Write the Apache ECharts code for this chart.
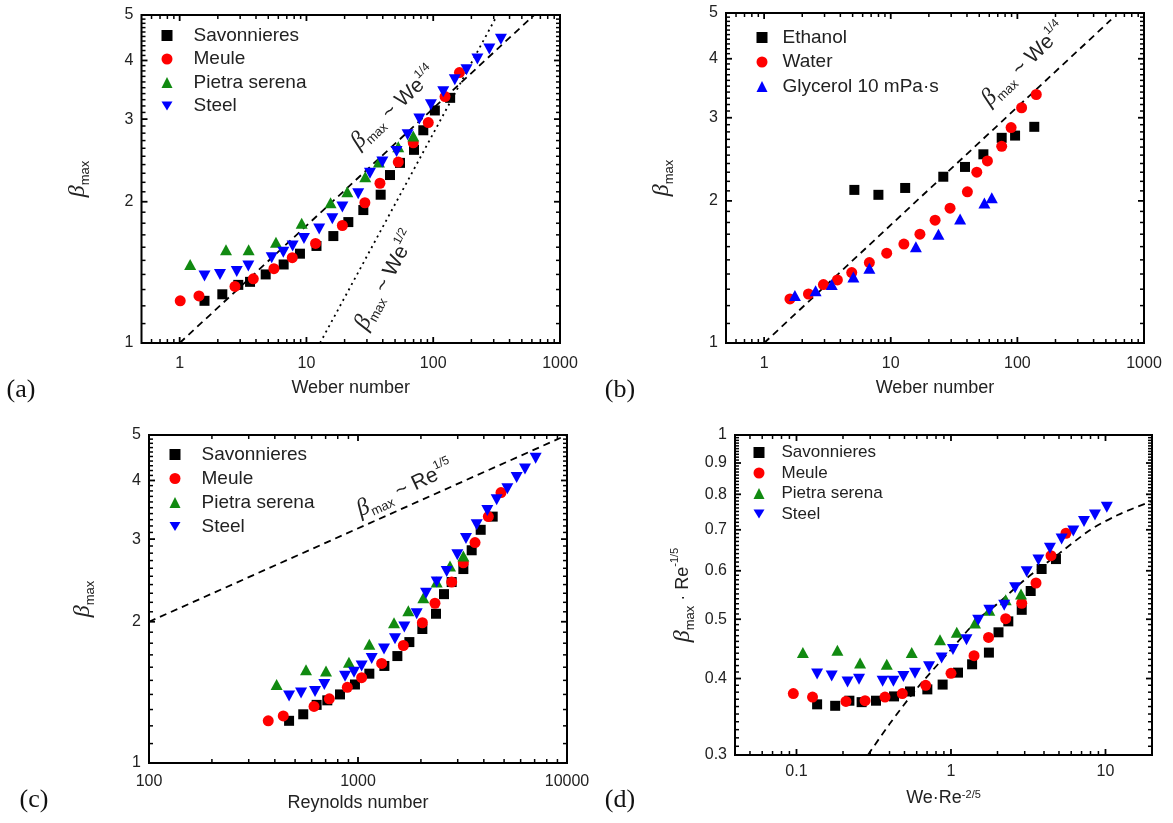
<!DOCTYPE html>
<html><head><meta charset="utf-8">
<script src="https://cdn.jsdelivr.net/npm/echarts@6/dist/echarts.min.js"></script>
<style>html,body{margin:0;padding:0;background:#fff}#c{width:1173px;height:823px}</style>
</head><body><div id="c"></div><script>
// ---------------- DATA ----------------
// Panel (a): beta_max vs Weber number
const savA = [[1.57,1.23],[2.17,1.27],[2.90,1.33],[3.59,1.35],[4.77,1.40],[6.61,1.47],[8.89,1.55],[12.0,1.61],[16.3,1.69],[21.4,1.81],[28.1,1.92],[38.5,2.07],[45.6,2.28],[54.7,2.42],[70.5,2.58],[83.5,2.84],[103,3.13],[136,3.33]];
const meuA = [[1.01,1.23],[1.42,1.26],[2.73,1.32],[3.81,1.37],[5.54,1.44],[7.73,1.52],[11.8,1.63],[19.2,1.78],[28.9,1.99],[38.0,2.19],[53.0,2.43],[69.6,2.67],[91.4,2.95],[124,3.35],[161,3.77]];
const pieA = [[1.21,1.47],[2.32,1.58],[3.50,1.58],[5.75,1.64],[9.17,1.80],[15.5,1.99],[21.0,2.10],[29.1,2.26],[37.3,2.43],[53.0,2.62],[69.6,2.76]];
const steA = [[1.57,1.39],[2.08,1.40],[2.82,1.42],[3.48,1.46],[5.32,1.52],[6.57,1.56],[7.78,1.61],[9.56,1.67],[12.6,1.75],[16.0,1.84],[19.2,1.95],[25.6,2.08],[31.7,2.30],[39.7,2.43],[51.4,2.56],[62.8,2.78],[77.7,3.00],[95.9,3.22],[120,3.43],[148,3.64],[183,3.82],[223,4.03],[277,4.23],[342,4.44]];
const fitA14 = [[1,1],[625,5]];
const fitA12 = [[12.8,1],[320,5]];
// Panel (b): liquids on Weber number
const ethB = [[5.16,2.11],[7.99,2.06],[13.0,2.13],[26.0,2.25],[38.6,2.36],[53.9,2.51],[75.2,2.72],[95.9,2.75],[136,2.87]];
const watB = [[1.60,1.24],[2.24,1.27],[2.94,1.33],[3.79,1.36],[4.92,1.41],[6.78,1.48],[9.29,1.55],[12.7,1.62],[17.0,1.70],[22.4,1.82],[29.4,1.93],[40.3,2.09],[47.8,2.30],[58.0,2.43],[75.2,2.61],[89.2,2.86],[108,3.15],[141,3.36]];
const glyB = [[1.75,1.26],[2.55,1.29],[3.42,1.33],[5.07,1.38],[6.78,1.44],[15.8,1.60],[23.8,1.70],[35.3,1.83],[54.9,1.98],[62.8,2.03]];
const fitB14 = [[1,1],[550,4.84]];
// Panel (c): beta_max vs Reynolds number
const savC = [[468,1.23],[547,1.27],[634,1.33],[713,1.36],[820,1.40],[967,1.47],[1133,1.55],[1337,1.61],[1543,1.69],[1761,1.81],[2032,1.93],[2361,2.08],[2579,2.29],[2807,2.43],[3192,2.59],[3499,2.84],[3864,3.14],[4410,3.35]];
const meuC = [[372,1.23],[439,1.26],[616,1.32],[729,1.37],[889,1.45],[1041,1.52],[1298,1.63],[1648,1.78],[2032,1.99],[2335,2.19],[2807,2.43],[3192,2.67],[3630,2.95],[4204,3.35],[4833,3.77]];
const pieC = [[408,1.47],[564,1.58],[703,1.57],[905,1.64],[1133,1.79],[1487,1.99],[1741,2.11],[2054,2.25],[2379,2.43],[2755,2.63],[3192,2.76]];
const steC = [[468,1.39],[534,1.41],[623,1.42],[690,1.47],[867,1.53],[957,1.56],[1041,1.61],[1163,1.67],[1332,1.75],[1503,1.84],[1666,1.95],[1909,2.08],[2116,2.30],[2379,2.43],[2657,2.56],[2987,2.78],[3286,3.01],[3697,3.22],[4157,3.45],[4608,3.64],[5183,3.84],[5743,4.06],[6295,4.23],[7080,4.46]];
const fitC15 = [[100,2.0],[10000,5.0]];
// Panel (d): beta_max Re^-1/5 vs We Re^-2/5
const savD = [[0.136,0.363],[0.178,0.361],[0.220,0.368],[0.264,0.366],[0.327,0.368],[0.428,0.374],[0.543,0.381],[0.703,0.384],[0.883,0.391],[1.11,0.409],[1.37,0.422],[1.76,0.441],[2.03,0.476],[2.35,0.496],[2.87,0.518],[3.28,0.556],[3.86,0.604],[4.78,0.627]];
const meuD = [[0.0954,0.378],[0.127,0.373],[0.209,0.367],[0.278,0.368],[0.374,0.373],[0.484,0.378],[0.686,0.390],[1.00,0.408],[1.41,0.436],[1.75,0.467],[2.26,0.501],[2.87,0.531],[3.55,0.573],[4.44,0.635],[5.55,0.691]];
const pieD = [[0.110,0.441],[0.184,0.445],[0.258,0.424],[0.384,0.422],[0.557,0.441],[0.849,0.463],[1.09,0.476],[1.43,0.493],[1.77,0.517],[2.26,0.538],[2.84,0.550]];
const steD = [[0.136,0.407],[0.169,0.404],[0.214,0.395],[0.254,0.399],[0.361,0.396],[0.424,0.396],[0.492,0.403],[0.585,0.408],[0.721,0.418],[0.870,0.432],[1.03,0.446],[1.26,0.463],[1.50,0.498],[1.77,0.517],[2.21,0.527],[2.60,0.563],[3.09,0.598],[3.68,0.625],[4.37,0.653],[5.20,0.676],[6.19,0.697],[7.26,0.722],[8.55,0.740],[10.2,0.762]];
const fitD = [[0.29,0.300],[0.40,0.337],[0.60,0.385],[1.0,0.446],[1.5,0.500],[2.0,0.530],[3.0,0.580],[5.0,0.640],[8.0,0.700],[12,0.740],[20,0.780]];

// Tick values
const weMajor = [1,10,100,1000];
const weMinor = [0.6,0.7,0.8,0.9,2,3,4,5,6,7,8,9,20,30,40,50,60,70,80,90,200,300,400,500,600,700,800,900];
const reMajor = [100,1000,10000];
const reMinor = [200,300,400,500,600,700,800,900,2000,3000,4000,5000,6000,7000,8000,9000];
const pMajor = [0.1,1,10];
const pMinor = [0.05,0.06,0.07,0.08,0.09,0.2,0.3,0.4,0.5,0.6,0.7,0.8,0.9,2,3,4,5,6,7,8,9,20];
const betaMajor = [1,2,3,4,5];
const betaMinor = [1.1,1.2,1.3,1.4,1.5,1.6,1.7,1.8,1.9,2.1,2.2,2.3,2.4,2.5,2.6,2.7,2.8,2.9,3.1,3.2,3.3,3.4,3.5,3.6,3.7,3.8,3.9,4.1,4.2,4.3,4.4,4.5,4.6,4.7,4.8,4.9];
const dMajor = [0.3,0.4,0.5,0.6,0.7,0.8,0.9,1.0];
const dMinor = [0.31,0.32,0.33,0.34,0.35,0.36,0.37,0.38,0.39,0.41,0.42,0.43,0.44,0.45,0.46,0.47,0.48,0.49,0.51,0.52,0.53,0.54,0.55,0.56,0.57,0.58,0.59,0.61,0.62,0.63,0.64,0.65,0.66,0.67,0.68,0.69,0.71,0.72,0.73,0.74,0.75,0.76,0.77,0.78,0.79,0.81,0.82,0.83,0.84,0.85,0.86,0.87,0.88,0.89,0.91,0.92,0.93,0.94,0.95,0.96,0.97,0.98,0.99];

// ---------------- STYLE / LAYOUT ----------------
const SANS = '"Liberation Sans", Arial, Helvetica, sans-serif';
const SERIF = '"Liberation Serif", "Times New Roman", serif';
const TXT = '#222';
const BLACK = '#000000', RED = '#ff0000', GREEN = '#118a11', BLUE = '#0000ff';
const DOWN = 'path://M0,0L12,0L6,10Z';
const MAJ_LEN = 6, MIN_LEN = 4, MAJ_W = 1.8, MIN_W = 1.5;

const nameRich = {
  b: {fontFamily: SERIF, fontStyle: 'italic', fontSize: 24, lineHeight: 28, color: TXT},
  s: {fontFamily: SANS, fontSize: 13, lineHeight: 13, verticalAlign: 'bottom', color: TXT},
  t: {fontFamily: SANS, fontSize: 18, lineHeight: 28, color: TXT},
  p: {fontFamily: SANS, fontSize: 11, lineHeight: 11, verticalAlign: 'top', color: TXT}
};

const grids = [
  {left: 141.5, top: 15, width: 418.5, height: 328},
  {left: 726, top: 13, width: 418, height: 330},
  {left: 149, top: 435, width: 418, height: 328},
  {left: 735, top: 435, width: 417, height: 320}
].map(g => Object.assign(g, {containLabel: false, outerBoundsMode: 'none', show: true,
  borderColor: '#000', borderWidth: 2, backgroundColor: 'rgba(0,0,0,0)'}));

function fmt(v) { return String(parseFloat(Number(v).toPrecision(6))); }

const panels = [
  {xMin: 0.5, xMax: 1000, xMajor: weMajor, xMinor: weMinor, xName: 'Weber number', xNameGap: 36, xLabelMargin: 13,
   yMin: 1, yMax: 5, yMajor: betaMajor, yMinor: betaMinor, yName: '{b|β}{s|max}', yNameGap: 50},
  {xMin: 0.5, xMax: 1000, xMajor: weMajor, xMinor: weMinor, xName: 'Weber number', xNameGap: 36, xLabelMargin: 13,
   yMin: 1, yMax: 5, yMajor: betaMajor, yMinor: betaMinor, yName: '{b|β}{s|max}', yNameGap: 50},
  {xMin: 100, xMax: 10000, xMajor: reMajor, xMinor: reMinor, xName: 'Reynolds number', xNameGap: 31, xLabelMargin: 11,
   yMin: 1, yMax: 5, yMajor: betaMajor, yMinor: betaMinor, yName: '{b|β}{s|max}', yNameGap: 52},
  {xMin: 0.04, xMax: 20, xMajor: pMajor, xMinor: pMinor, xName: 'We·Re{p|-2/5}', xNameGap: 34, xLabelMargin: 9,
   yMin: 0.3, yMax: 1.0, yMajor: dMajor, yMinor: dMinor, yName: '{b|β}{s|max}{t| · Re}{p|-1/5}', yNameGap: 38}
];

// one x and one y log axis per panel (labels + titles); ticks are drawn on their own layer below
const xAxes = [], yAxes = [];
panels.forEach((c, gi) => {
  xAxes.push({type: 'log', gridIndex: gi, min: c.xMin, max: c.xMax, position: 'bottom', silent: true,
    splitLine: {show: false}, axisLine: {show: false}, axisTick: {show: false},
    axisLabel: {show: true, customValues: c.xMajor, formatter: fmt, margin: c.xLabelMargin, color: TXT, fontSize: 16, fontFamily: SANS},
    name: c.xName, nameLocation: 'middle', nameGap: c.xNameGap,
    nameTextStyle: {color: TXT, fontSize: 18, fontFamily: SANS, rich: nameRich}});
  yAxes.push({type: 'log', gridIndex: gi, min: c.yMin, max: c.yMax, position: 'left', silent: true,
    splitLine: {show: false}, axisLine: {show: false}, axisTick: {show: false},
    axisLabel: {show: true, customValues: c.yMajor, formatter: fmt, margin: 8, color: TXT, fontSize: 16, fontFamily: SANS},
    name: c.yName, nameLocation: 'middle', nameRotate: 90, nameGap: c.yNameGap,
    nameTextStyle: {color: TXT, fontSize: 18, fontFamily: SANS, rich: nameRich}});
});

function sc(name, data, gi, symbol, size, color) {
  return {type: 'scatter', name: name, data: data, xAxisIndex: gi, yAxisIndex: gi,
    symbol: symbol, symbolSize: size, itemStyle: {color: color, opacity: 1, borderWidth: 0}, z: 3, silent: true, animation: false};
}
function ln(data, gi, dash, smooth) {
  return {type: 'line', data: data, xAxisIndex: gi, yAxisIndex: gi, symbol: 'none', showSymbol: false,
    smooth: smooth || false, clip: true, silent: true, animation: false, z: 2,
    lineStyle: {color: '#000', width: 1.8, type: dash}};
}
const DASH = [7, 5], DOT = [2, 4];

const series = [
  ln(fitA14, 0, DASH), ln(fitA12, 0, DOT),
  sc('Savonnieres', savA, 0, 'rect', 10, BLACK),
  sc('Meule', meuA, 0, 'circle', 11, RED),
  sc('Pietra serena', pieA, 0, 'triangle', [12, 11], GREEN),
  sc('Steel', steA, 0, DOWN, [12, 11], BLUE),
  ln(fitB14, 1, DASH),
  sc('Ethanol', ethB, 1, 'rect', 10, BLACK),
  sc('Water', watB, 1, 'circle', 11, RED),
  sc('Glycerol 10 mPa·s', glyB, 1, 'triangle', [12, 11], BLUE),
  ln(fitC15, 2, DASH),
  sc('Savonnieres', savC, 2, 'rect', 10, BLACK),
  sc('Meule', meuC, 2, 'circle', 11, RED),
  sc('Pietra serena', pieC, 2, 'triangle', [12, 11], GREEN),
  sc('Steel', steC, 2, DOWN, [12, 11], BLUE),
  ln(fitD, 3, DASH, 0.3),
  sc('Savonnieres', savD, 3, 'rect', 10, BLACK),
  sc('Meule', meuD, 3, 'circle', 11, RED),
  sc('Pietra serena', pieD, 3, 'triangle', [12, 11], GREEN),
  sc('Steel', steD, 3, DOWN, [12, 11], BLUE)
];

function lg(left, top, gap, fs, pad, names) {
  return {orient: 'vertical', left: left, top: top, itemGap: gap, itemWidth: 11, itemHeight: 11, padding: 0,
    selectedMode: false, data: names,
    textStyle: {fontSize: fs, fontFamily: SANS, color: TXT, padding: [0, 0, 0, pad]}};
}
const stones = ['Savonnieres', 'Meule', 'Pietra serena', 'Steel'];
const legends = [
  lg(161.5, 26, 4.5, 19, 16, stones),
  lg(756.5, 28, 5.5, 19, 10, ['Ethanol', 'Water', 'Glycerol 10 mPa·s']),
  lg(169.5, 445, 5, 19, 16, stones),
  lg(753.5, 444, 3.5, 17, 12, stones)
];

const chart = echarts.init(document.getElementById('c'), null, {renderer: 'canvas', width: 1173, height: 823});
chart.setOption({
  animation: false,
  backgroundColor: '#ffffff',
  grid: grids,
  xAxis: xAxes,
  yAxis: yAxes,
  legend: legends,
  series: series
});

// inward ticks on all four sides, placed through each panel's scales, on a separate canvas layer
const tickGroups = [];
panels.forEach((c, gi) => {
  const f = {xAxisIndex: gi, yAxisIndex: gi};
  const kids = [];
  const xt = (v, len, w) => {
    const a = chart.convertToPixel(f, [v, c.yMin]), b = chart.convertToPixel(f, [v, c.yMax]);
    kids.push({type: 'line', shape: {x1: a[0], y1: a[1], x2: a[0], y2: a[1] - len}, style: {stroke: '#000', lineWidth: w}});
    kids.push({type: 'line', shape: {x1: b[0], y1: b[1], x2: b[0], y2: b[1] + len}, style: {stroke: '#000', lineWidth: w}});
  };
  const yt = (v, len, w) => {
    const a = chart.convertToPixel(f, [c.xMin, v]), b = chart.convertToPixel(f, [c.xMax, v]);
    kids.push({type: 'line', shape: {x1: a[0], y1: a[1], x2: a[0] + len, y2: a[1]}, style: {stroke: '#000', lineWidth: w}});
    kids.push({type: 'line', shape: {x1: b[0], y1: b[1], x2: b[0] - len, y2: b[1]}, style: {stroke: '#000', lineWidth: w}});
  };
  c.xMajor.forEach(v => xt(v, MAJ_LEN, MAJ_W));
  c.xMinor.forEach(v => xt(v, MIN_LEN, MIN_W));
  c.yMajor.forEach(v => yt(v, MAJ_LEN, MAJ_W));
  c.yMinor.forEach(v => yt(v, MIN_LEN, MIN_W));
  tickGroups.push({type: 'group', zlevel: 1, z: 1, children: kids});
});

// annotations anchored in data coordinates
const annRich = {
  b: {fontFamily: SERIF, fontStyle: 'italic', fontSize: 24, lineHeight: 28, fill: TXT, color: TXT},
  s: {fontFamily: SANS, fontSize: 13, lineHeight: 13, verticalAlign: 'bottom', fill: TXT, color: TXT},
  t: {fontFamily: SANS, fontSize: 21, lineHeight: 28, fill: TXT, color: TXT},
  p: {fontFamily: SANS, fontSize: 12, lineHeight: 12, verticalAlign: 'top', fill: TXT, color: TXT}
};
const annotations = [
  {gi: 0, at: [49.0, 3.17], rot: 43, text: '{b|β}{s|max}{t| ~ We}{p|1/4}'},
  {gi: 0, at: [42.4, 1.36], rot: 62, text: '{b|β}{s|max}{t| ~ We}{p|1/2}'},
  {gi: 1, at: [113, 3.89], rot: 44, text: '{b|β}{s|max}{t| ~ We}{p|1/4}'},
  {gi: 2, at: [1679, 3.84], rot: 25, text: '{b|β}{s|max}{t| ~ Re}{p|1/5}'}
];
const texts = [];
annotations.forEach(a => {
  const p = chart.convertToPixel({xAxisIndex: a.gi, yAxisIndex: a.gi}, a.at);
  texts.push({type: 'text', x: p[0], y: p[1], rotation: a.rot * Math.PI / 180, z: 10, silent: true,
    style: {text: a.text, rich: annRich, align: 'center', verticalAlign: 'middle', fill: TXT}});
});
const panelLabels = [['(a)', 21, 390], ['(b)', 620, 390], ['(c)', 34, 800], ['(d)', 620, 800]];
panelLabels.forEach(l => texts.push({type: 'text', x: l[1], y: l[2], z: 10, silent: true,
  style: {text: l[0], font: '26px ' + SERIF, fill: '#111', align: 'center', verticalAlign: 'middle'}}));
chart.setOption({graphic: tickGroups.concat(texts)});
</script></body></html>
